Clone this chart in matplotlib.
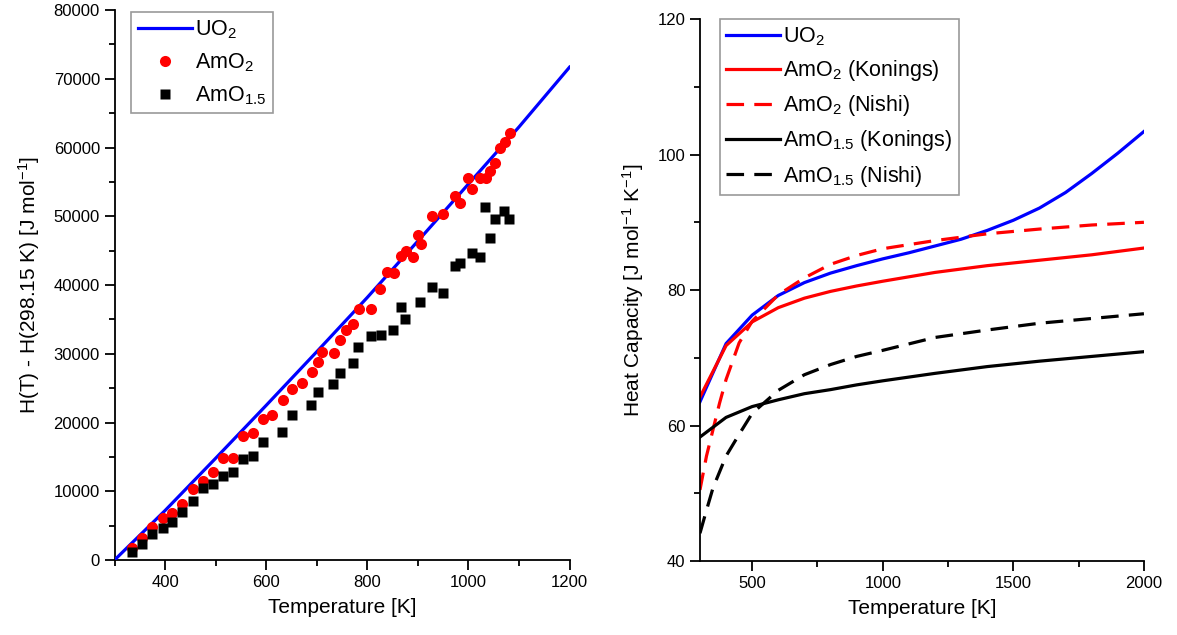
import matplotlib
matplotlib.use("Agg")
import matplotlib.pyplot as plt
from matplotlib.ticker import MultipleLocator

plt.rcParams['font.family'] = ['Liberation Sans', 'DejaVu Sans']
plt.rcParams['mathtext.fontset'] = 'custom'
plt.rcParams['mathtext.rm'] = 'Liberation Sans'
plt.rcParams['mathtext.it'] = 'Liberation Sans:italic'

# ---- left panel: enthalpy increment ----
uo2_T = [300, 400, 500, 600, 700, 800, 900, 1000, 1100, 1200]
uo2_H = [0, 7200, 14800, 22500, 30300, 38200, 46400, 54700, 63000, 71700]

amo2_T = [335, 355, 375, 395, 414, 434, 455, 475, 494, 514, 534, 554, 573, 593,
          612, 633, 651, 671, 690, 702, 710, 734, 746, 758, 772, 783, 807, 826,
          838, 852, 867, 877, 890, 900, 906, 928, 949, 974, 984, 999, 1008, 1022,
          1034, 1043, 1053, 1062, 1072, 1082]
amo2_H = [1700, 3240, 4760, 6070, 6880, 8100, 10280, 11540, 12760, 14880, 14790,
          18040, 18520, 20510, 21130, 23270, 24830, 25790, 27300, 28800, 30250,
          30150, 31950, 33450, 34280, 36510, 36460, 39370, 41930, 41740, 44220,
          44950, 44120, 47300, 45960, 50040, 50330, 52950, 51880, 55560, 53920,
          55600, 55520, 56620, 57750, 59970, 60750, 62060]

amo15_T = [335, 355, 375, 395, 414, 434, 455, 475, 494, 514, 534, 554, 573, 593,
           632, 651, 689, 702, 733, 746, 772, 782, 807, 827, 851, 867, 875, 905,
           928, 949, 974, 983, 1007, 1022, 1032, 1042, 1052, 1071, 1081]
amo15_H = [1120, 2330, 3780, 4700, 5480, 7030, 8580, 10430, 11010, 12170, 12800,
           14740, 15130, 17120, 18620, 21090, 22590, 24390, 25600, 27200, 28650,
           30940, 32580, 32770, 33450, 36840, 35050, 37570, 39750, 38790, 42760,
           43250, 44610, 44120, 51300, 46880, 49550, 50800, 49600]

# ---- right panel: heat capacity ----
cp_uo2_T = [300, 400, 500, 600, 700, 800, 900, 1000, 1100, 1200, 1300, 1400,
            1500, 1600, 1700, 1800, 1900, 2000]
cp_uo2 = [63.5, 72.1, 76.3, 79.2, 81.1, 82.5, 83.6, 84.6, 85.5, 86.5, 87.5, 88.8,
          90.3, 92.1, 94.4, 97.2, 100.2, 103.4]

cp_amo2_kon_T = [300, 400, 500, 600, 700, 800, 900, 1000, 1200, 1400, 1600, 1800, 2000]
cp_amo2_kon = [64.2, 71.8, 75.3, 77.4, 78.8, 79.8, 80.6, 81.3, 82.6, 83.6, 84.4, 85.2, 86.2]

cp_amo2_nis_T = [300, 325, 350, 375, 400, 450, 500, 600, 700, 800, 900, 1000,
                 1200, 1400, 1600, 1800, 2000]
cp_amo2_nis = [50.5, 55.5, 59.4, 63.3, 66.8, 72.2, 75.4, 79.3, 81.8, 83.8, 85.1,
               86.1, 87.3, 88.3, 89.0, 89.6, 90.0]

cp_amo15_kon_T = [300, 400, 500, 600, 700, 800, 900, 1000, 1200, 1400, 1600, 1800, 2000]
cp_amo15_kon = [58.3, 61.2, 62.8, 63.8, 64.7, 65.3, 66.0, 66.6, 67.7, 68.7, 69.5, 70.2, 70.9]

cp_amo15_nis_T = [300, 325, 350, 400, 450, 500, 600, 700, 800, 900, 1000, 1200,
                  1400, 1600, 1800, 2000]
cp_amo15_nis = [44.1, 47.5, 50.8, 55.5, 58.7, 61.8, 65.2, 67.5, 69.0, 70.2, 71.1,
                73.0, 74.1, 75.1, 75.8, 76.5]

fig = plt.figure(figsize=(11.77, 6.35), dpi=100)
ax1 = fig.add_axes([0.0973, 0.1181, 0.3866, 0.866])
ax2 = fig.add_axes([0.5947, 0.1165, 0.3772, 0.8535])

lw = 2.3
ax1.plot(uo2_T, uo2_H, color='#0000ff', lw=lw, label='UO$_2$', zorder=3)
ax1.plot(amo2_T, amo2_H, 'o', color='#ff0000', ms=8, mec='none', label='AmO$_2$', zorder=4)
ax1.plot(amo15_T, amo15_H, 's', color='black', ms=7, mec='none', label='AmO$_{1.5}$', zorder=4)
ax1.set_xlim(300, 1200)
ax1.set_ylim(0, 80000)
ax1.xaxis.set_major_locator(MultipleLocator(200))
ax1.xaxis.set_minor_locator(MultipleLocator(100))
ax1.yaxis.set_major_locator(MultipleLocator(10000))
ax1.yaxis.set_minor_locator(MultipleLocator(5000))
ax1.set_xlabel('Temperature [K]', fontsize=15, labelpad=6)
ax1.set_ylabel('H(T) - H(298.15 K) [J mol$^{-1}$]', fontsize=15, labelpad=8)

ds = (5.5, 3.2)
ax2.plot(cp_uo2_T, cp_uo2, color='#0000ff', lw=lw, label='UO$_2$')
ax2.plot(cp_amo2_kon_T, cp_amo2_kon, color='#ff0000', lw=lw, label='AmO$_2$ (Konings)')
ax2.plot(cp_amo2_nis_T, cp_amo2_nis, color='#ff0000', lw=lw, ls=(0, ds), label='AmO$_2$ (Nishi)')
ax2.plot(cp_amo15_kon_T, cp_amo15_kon, color='black', lw=lw, label='AmO$_{1.5}$ (Konings)')
ax2.plot(cp_amo15_nis_T, cp_amo15_nis, color='black', lw=lw, ls=(0, ds), label='AmO$_{1.5}$ (Nishi)')
ax2.set_xlim(300, 2000)
ax2.set_ylim(40, 120)
ax2.xaxis.set_major_locator(MultipleLocator(500))
ax2.xaxis.set_minor_locator(MultipleLocator(250))
ax2.yaxis.set_major_locator(MultipleLocator(20))
ax2.yaxis.set_minor_locator(MultipleLocator(10))
ax2.set_xlabel('Temperature [K]', fontsize=15, labelpad=6)
ax2.set_ylabel('Heat Capacity [J mol$^{-1}$ K$^{-1}$]', fontsize=15, labelpad=8)

anchors = {ax1: (0.037, 0.996), ax2: (0.045, 1.0)}
for ax in (ax1, ax2):
    for s in ('top', 'right'):
        ax.spines[s].set_visible(False)
    ax.spines['left'].set_linewidth(1.3)
    ax.spines['bottom'].set_linewidth(1.3)
    ax.tick_params(which='major', direction='out', length=7, width=1.3, labelsize=12)
    ax.tick_params(which='minor', direction='out', length=4, width=1.3)
    leg = ax.legend(loc='upper left', bbox_to_anchor=anchors[ax], borderaxespad=0,
                    fontsize=15.5, frameon=True, fancybox=False,
                    edgecolor='#808080', handlelength=2.5, handletextpad=0.15,
                    labelspacing=0.47, borderpad=0.3)
    leg.get_frame().set_linewidth(1.2)

fig.savefig('out.png', dpi=100)
